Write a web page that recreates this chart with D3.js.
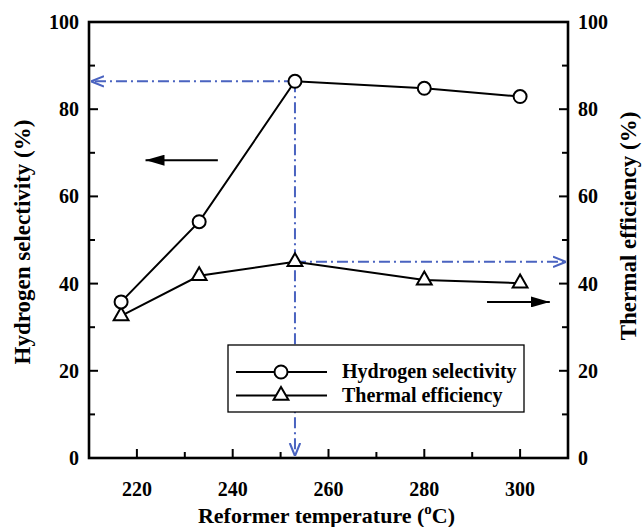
<!DOCTYPE html>
<html><head><meta charset="utf-8">
<script src="https://cdn.jsdelivr.net/npm/d3@7"></script>
<style>body{margin:0;background:#fff}</style>
</head><body>
<svg id="c" width="642" height="527"></svg>
<script>
const temps = [216.7, 233, 253, 280, 300];
const h2Selectivity = [35.8, 54.2, 86.4, 84.8, 82.9];
const thermalEff = [32.6, 41.8, 45.0, 40.8, 40.1];
const xTicks = [220, 240, 260, 280, 300];
const yTicks = [0, 20, 40, 60, 80, 100];
const legendLabels = ["Hydrogen selectivity", "Thermal efficiency"];

const FONT = "'Liberation Serif', 'Times New Roman', Times, serif";
const svg = d3.select("#c").attr("font-family", FONT).attr("font-weight", "bold");
const L = 89, R = 568, T = 22, B = 458;
const x = d3.scaleLinear().domain([210, 310]).range([L, R]);
const yL = d3.scaleLinear().domain([0, 100]).range([B, T]);
const yR = d3.scaleLinear().domain([0, 100]).range([B, T]);
const blue = "#4a63c0";

const defs = svg.append("defs");
defs.append("marker").attr("id","openArrow").attr("viewBox","0 0 10 10").attr("refX",10).attr("refY",5)
  .attr("markerWidth",13).attr("markerHeight",13).attr("markerUnits","userSpaceOnUse").attr("orient","auto")
  .append("path").attr("d","M0,1 L10,5 L0,9").attr("fill","none").attr("stroke",blue).attr("stroke-width",1.6);
defs.append("marker").attr("id","solidArrow").attr("viewBox","0 0 10 10").attr("refX",10).attr("refY",5)
  .attr("markerWidth",19).attr("markerHeight",11).attr("markerUnits","userSpaceOnUse").attr("orient","auto")
  .attr("preserveAspectRatio","none")
  .append("path").attr("d","M0,0 L10,5 L0,10 Z").attr("fill","#000");

const g = svg.append("g").attr("fill","none").attr("stroke",blue).attr("stroke-width",2).attr("stroke-dasharray","11,4,2,4");
g.append("line").attr("x1",x(temps[2])).attr("y1",yL(h2Selectivity[2])).attr("x2",L+2).attr("y2",yL(h2Selectivity[2])).attr("marker-end","url(#openArrow)");
g.append("line").attr("x1",x(temps[2])).attr("y1",yL(h2Selectivity[2])).attr("x2",x(temps[2])).attr("y2",B-2).attr("marker-end","url(#openArrow)");
g.append("line").attr("x1",x(temps[2])).attr("y1",yR(thermalEff[2])).attr("x2",R-2).attr("y2",yR(thermalEff[2])).attr("marker-end","url(#openArrow)");

function ticks(scale, vals, major, side){
  const ga = svg.append("g").attr("stroke","#000").attr("stroke-width",2);
  vals.forEach(v=>{
    const len = major.includes(v) ? 9 : 6;
    if(side==="bottom") ga.append("line").attr("x1",scale(v)).attr("x2",scale(v)).attr("y1",B).attr("y2",B-len);
    else if(side==="left") ga.append("line").attr("y1",scale(v)).attr("y2",scale(v)).attr("x1",L).attr("x2",L+len);
    else ga.append("line").attr("y1",scale(v)).attr("y2",scale(v)).attr("x1",R).attr("x2",R-len);
  });
}
ticks(x, d3.range(220, 310, 10), xTicks, "bottom");
ticks(yL, d3.range(10, 100, 10), yTicks, "left");
ticks(yR, d3.range(10, 100, 10), yTicks, "right");

svg.append("rect").attr("x",L).attr("y",T).attr("width",R-L).attr("height",B-T)
  .attr("fill","none").attr("stroke","#000").attr("stroke-width",2.6);

svg.append("g").selectAll("text").data(xTicks).join("text")
  .attr("x",d=>x(d)).attr("y",B+38).attr("text-anchor","middle").attr("font-size",20).text(d=>d);
svg.append("g").selectAll("text").data(yTicks).join("text")
  .attr("x",L-10).attr("y",d=>yL(d)+7).attr("text-anchor","end").attr("font-size",20).text(d=>d);
svg.append("g").selectAll("text").data(yTicks).join("text")
  .attr("x",R+10).attr("y",d=>yR(d)+7).attr("text-anchor","start").attr("font-size",20).text(d=>d);

svg.append("text").attr("transform",`translate(30,${(T+B)/2+2}) rotate(-90)`).attr("text-anchor","middle").attr("font-size",23).text("Hydrogen selectivity (%)");
svg.append("text").attr("transform",`translate(636,${(T+B)/2-14}) rotate(-90)`).attr("text-anchor","middle").attr("font-size",23).text("Thermal efficiency (%)");
const xt = svg.append("text").attr("x",(L+R)/2-2).attr("y",523).attr("text-anchor","middle").attr("font-size",22);
xt.append("tspan").text("Reformer temperature (");
xt.append("tspan").attr("font-size",15).attr("dy",-9).text("o");
xt.append("tspan").attr("dy",9).text("C)");

const line = (ys, sc) => d3.line().x((d,i)=>x(temps[i])).y(d=>sc(d))(ys);
svg.append("path").attr("d",line(h2Selectivity,yL)).attr("fill","none").attr("stroke","#000").attr("stroke-width",2);
svg.append("path").attr("d",line(thermalEff,yR)).attr("fill","none").attr("stroke","#000").attr("stroke-width",2);

const tri = d3.symbol().type(d3.symbolTriangle).size(95);
svg.append("g").selectAll("path").data(thermalEff).join("path")
  .attr("transform",(d,i)=>`translate(${x(temps[i])},${yR(d)})`).attr("d",tri)
  .attr("fill","#fff").attr("stroke","#000").attr("stroke-width",2);
svg.append("g").selectAll("circle").data(h2Selectivity).join("circle")
  .attr("cx",(d,i)=>x(temps[i])).attr("cy",d=>yL(d)).attr("r",6.5)
  .attr("fill","#fff").attr("stroke","#000").attr("stroke-width",2);

svg.append("line").attr("x1",x(236.9)).attr("x2",x(221.8)).attr("y1",yL(68.3)).attr("y2",yL(68.3))
  .attr("stroke","#000").attr("stroke-width",2).attr("marker-end","url(#solidArrow)");
svg.append("line").attr("x1",x(293.1)).attr("x2",x(306.2)).attr("y1",yR(35.8)).attr("y2",yR(35.8))
  .attr("stroke","#000").attr("stroke-width",2).attr("marker-end","url(#solidArrow)");

const lg = svg.append("g");
lg.append("rect").attr("x",228).attr("y",345).attr("width",296).attr("height",67)
  .attr("fill","#fff").attr("stroke","#000").attr("stroke-width",1.3);
[0,1].forEach(i=>{
  const yy = 372 + i*23.5;
  lg.append("line").attr("x1",236).attr("x2",327).attr("y1",yy).attr("y2",yy).attr("stroke","#000").attr("stroke-width",2);
  if(i===0) lg.append("circle").attr("cx",281).attr("cy",yy).attr("r",6.5).attr("fill","#fff").attr("stroke","#000").attr("stroke-width",2);
  else lg.append("path").attr("transform",`translate(281,${yy})`).attr("d",tri).attr("fill","#fff").attr("stroke","#000").attr("stroke-width",2);
  lg.append("text").attr("x",342).attr("y",yy+6).attr("font-size",20).text(legendLabels[i]);
});
</script>
</body></html>
